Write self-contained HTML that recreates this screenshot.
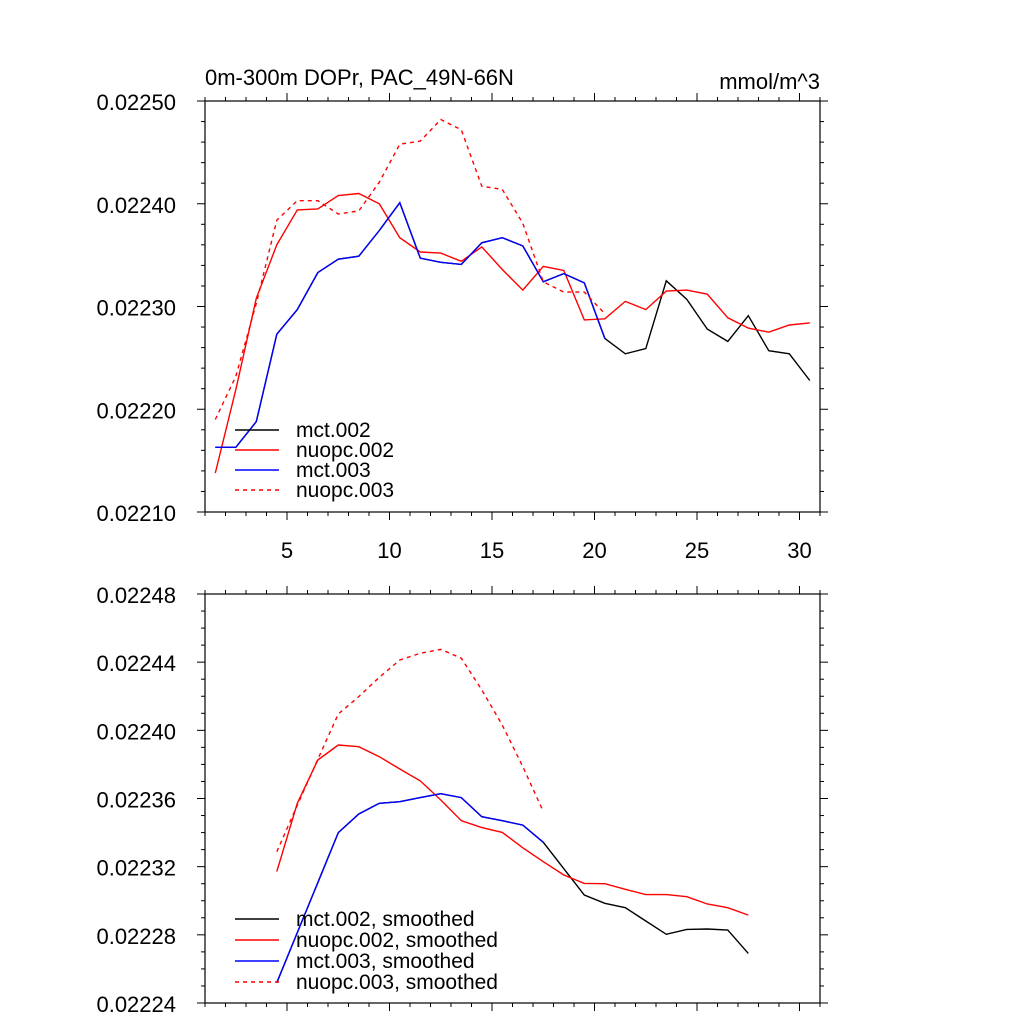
<!DOCTYPE html>
<html><head><meta charset="utf-8"><style>
body{margin:0;background:#fff}
svg{display:block}
text{font-family:"Liberation Sans",sans-serif;fill:#000}
</style></head><body>
<svg id="c" width="1024" height="1024" viewBox="0 0 1024 1024"></svg>
<script>
const xTop = [1.5,2.5,3.5,4.5,5.5,6.5,7.5,8.5,9.5,10.5,11.5,12.5,13.5,14.5,15.5,16.5,17.5,18.5,19.5,20.5,21.5,22.5,23.5,24.5,25.5,26.5,27.5,28.5,29.5,30.5];
const mct002 = [0.022163,0.022163,0.022188,0.022273,0.022297,0.022333,0.022346,0.022349,0.022374,0.022401,0.022347,0.022343,0.022341,0.022362,0.022367,0.022359,0.022324,0.022332,0.022323,0.022269,0.022254,0.022259,0.022325,0.022307,0.022278,0.022266,0.022291,0.022257,0.022254,0.022228];
const nuopc002 = [0.022138,0.022219,0.022308,0.022360,0.022394,0.022395,0.022408,0.022410,0.022400,0.022367,0.022353,0.022352,0.022344,0.022358,0.022336,0.022316,0.022339,0.022335,0.022287,0.022288,0.022305,0.022297,0.022315,0.022316,0.022312,0.022289,0.022279,0.022275,0.022282,0.022284];
const mct003 = [0.022163,0.022163,0.022188,0.022273,0.022297,0.022333,0.022346,0.022349,0.022374,0.022401,0.022347,0.022343,0.022341,0.022362,0.022367,0.022359,0.022324,0.022332,0.022323,0.022269];
const nuopc003 = [0.022190,0.022232,0.022303,0.022384,0.022403,0.022403,0.022390,0.022393,0.022421,0.022458,0.022461,0.022482,0.022472,0.022417,0.022414,0.022381,0.022324,0.022314,0.022314,0.022293];
const xBot = [4.5,5.5,6.5,7.5,8.5,9.5,10.5,11.5,12.5,13.5,14.5,15.5,16.5,17.5,18.5,19.5,20.5,21.5,22.5,23.5,24.5,25.5,26.5,27.5];
const mct002s = [0.0222519,0.0222813,0.0223106,0.02234,0.0223509,0.0223572,0.0223581,0.0223605,0.0223628,0.0223605,0.0223493,0.022347,0.0223444,0.0223343,0.0223188,0.0223034,0.0222985,0.0222959,0.0222881,0.0222803,0.0222832,0.0222834,0.0222828,0.0222691];
const nuopc002s = [0.0223171,0.0223572,0.0223826,0.0223914,0.0223904,0.0223845,0.0223773,0.0223703,0.0223591,0.022347,0.0223429,0.0223401,0.0223311,0.0223229,0.0223151,0.0223102,0.02231,0.0223067,0.0223036,0.0223036,0.0223024,0.0222981,0.0222959,0.0222916];
const mct003s = [0.0222519,0.0222813,0.0223106,0.02234,0.0223509,0.0223572,0.0223581,0.0223605,0.0223628,0.0223605,0.0223493,0.022347,0.0223444,0.0223343];
const nuopc003s = [0.0223288,0.022356,0.022383,0.0224096,0.0224198,0.0224311,0.0224413,0.0224452,0.0224475,0.0224423,0.0224237,0.0224031,0.0223787,0.0223523];
const topYTicks = ["0.02210","0.02220","0.02230","0.02240","0.02250"];
const botYTicks = ["0.02224","0.02228","0.02232","0.02236","0.02240","0.02244","0.02248"];
const xTickLabels = ["5","10","15","20","25","30"];

const NS="http://www.w3.org/2000/svg";
const svg=document.getElementById('c');
function mk(tag,attrs,parent){const e=document.createElementNS(NS,tag);for(const k in attrs)e.setAttribute(k,attrs[k]);(parent||svg).appendChild(e);return e;}

function panel(name,top,bot,ymin,ymax,yTicks,yMinorStep,showX){
  const L=205,R=820;
  const g=mk('g',{});
  
  
  const sx=v=>L+(v-1)/30*(R-L);
  const sy=v=>bot-(v-ymin)/(ymax-ymin)*(bot-top);
  const frame=mk('rect',{x:L,y:top,width:R-L,height:bot-top,fill:'none',stroke:'#000','stroke-width':1.2},g);
  
  
  for(let i=1;i<=31;i++){
    const major=i%5===0, len=major?8:4, x=sx(i);
    mk('line',{x1:x,x2:x,y1:bot,y2:bot+len,stroke:'#000','stroke-width':1},g);
    mk('line',{x1:x,x2:x,y1:top,y2:top-len,stroke:'#000','stroke-width':1},g);
  }
  if(showX){xTickLabels.forEach(t=>{const tx=mk('text',{x:sx(+t),y:bot+46,'font-size':22,'text-anchor':'middle'},g);tx.textContent=t;
    
    });}
  const n=Math.round((ymax-ymin)/yMinorStep);
  const per=n/(yTicks.length-1);
  for(let i=0;i<=n;i++){
    const v=ymin+i*yMinorStep, y=sy(v), major=i%per===0, len=major?8:4;
    mk('line',{x1:L,x2:L-len,y1:y,y2:y,stroke:'#000','stroke-width':1},g);
    mk('line',{x1:R,x2:R+len,y1:y,y2:y,stroke:'#000','stroke-width':1},g);
  }
  yTicks.forEach(t=>{const tx=mk('text',{x:176,y:sy(+t)+9,'font-size':22,'text-anchor':'end'},g);tx.textContent=t;
    
    });
  return {g,sx,sy};
}
function series(p,xs,ys,color,dash,name){
  const d=ys.map((v,i)=>(i?'L':'M')+p.sx(xs[i]).toFixed(1)+','+p.sy(v).toFixed(1)).join('');
  const a={d,fill:'none',stroke:color,'stroke-width':1.4};
  if(dash)a['stroke-dasharray']='4,4';
  const e=mk('path',a,p.g);
  
  
}
function legend(p,labels,y0,dy){
  const cols=['#000','#f00','#00f','#f00'];
  labels.forEach((l,i)=>{
    const y=y0+i*dy;
    const a={x1:235,x2:279,y1:y,y2:y,stroke:cols[i],'stroke-width':1.4};
    if(i===3)a['stroke-dasharray']='4,4';
    const ln=mk('line',a,p.g);
    
    
    const t=mk('text',{x:296,y:y+7,'font-size':21},p.g);t.textContent=l;
    
    
  });
}
const p1=panel('top-panel',101,512,0.02210,0.02250,topYTicks,0.00002,true);
series(p1,xTop,mct002,'#000',false,'line-mct002');
series(p1,xTop,nuopc002,'#f00',false,'line-nuopc002');
series(p1,xTop,mct003,'#00f',false,'line-mct003');
series(p1,xTop,nuopc003,'#f00',true,'line-nuopc003');
legend(p1,['mct.002','nuopc.002','mct.003','nuopc.003'],430,20);
const p2=panel('bottom-panel',594,1003,0.02224,0.02248,botYTicks,0.00001,false);
series(p2,xBot,mct002s,'#000',false,'line-mct002-smoothed');
series(p2,xBot,nuopc002s,'#f00',false,'line-nuopc002-smoothed');
series(p2,xBot,mct003s,'#00f',false,'line-mct003-smoothed');
series(p2,xBot,nuopc003s,'#f00',true,'line-nuopc003-smoothed');
legend(p2,['mct.002, smoothed','nuopc.002, smoothed','mct.003, smoothed','nuopc.003, smoothed'],919,21);
const t1=mk('text',{x:205,y:85,'font-size':22});t1.textContent='0m-300m DOPr, PAC_49N-66N';


const t2=mk('text',{x:820,y:89,'font-size':22,'text-anchor':'end'});t2.textContent='mmol/m^3';


</script>
</body></html>
